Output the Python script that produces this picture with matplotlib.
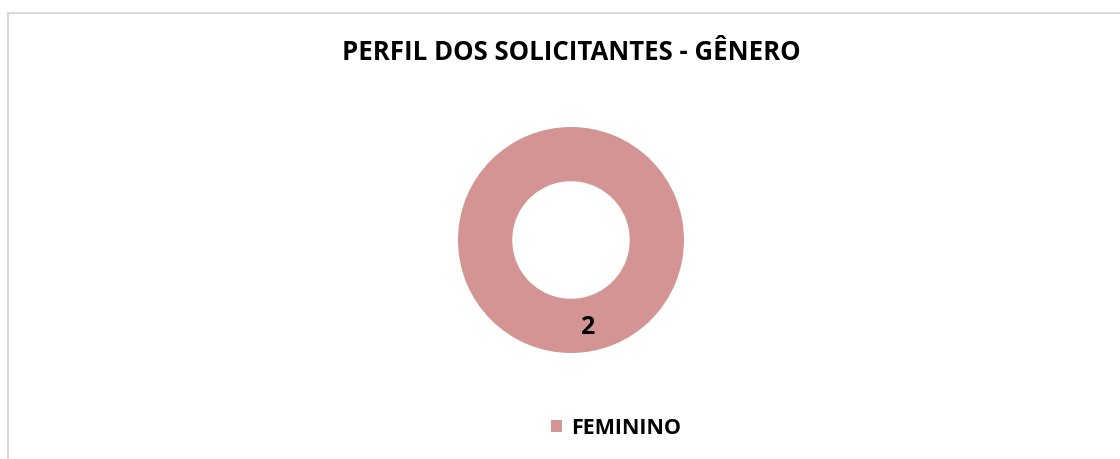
import numpy as np
import matplotlib.pyplot as plt
from matplotlib.lines import Line2D

# dados
categorias = ['FEMININO']
valores = [2]
cores = ['#D39493']
titulo = 'PERFIL DOS SOLICITANTES - GÊNERO'

W, H = 1120, 459
fig = plt.figure(figsize=(W / 100, H / 100), dpi=100)
plt.rcParams['font.family'] = ['Open Sans', 'DejaVu Sans']

# borda do gráfico (só topo e esquerda visíveis)
fig.add_artist(Line2D([7.5 / W, 1], [1 - 12.5 / H, 1 - 12.5 / H], color='#d9d9d9', lw=1.5))
fig.add_artist(Line2D([7.5 / W, 7.5 / W], [0, 1 - 12.5 / H], color='#d9d9d9', lw=1.5))

# rosca
cx, cy, r = 571, 240, 113
ax = fig.add_axes([(cx - r) / W, 1 - (cy + r) / H, 2 * r / W, 2 * r / H])
wedges, _ = ax.pie(valores, colors=cores, startangle=90, counterclock=False,
                   radius=1, wedgeprops=dict(width=0.48, edgecolor='none'))
ax.set_xlim(-1, 1)
ax.set_ylim(-1, 1)
ax.set_aspect('equal')
ax.axis('off')

# rótulos de dados
for w, v in zip(wedges, valores):
    ang = np.deg2rad((w.theta1 + w.theta2) / 2)
    rr = 0.77
    ax.text(rr * np.cos(ang) + 0.14, rr * np.sin(ang), str(v), ha='center', va='center',
            fontsize=18, fontweight='bold', color='black')

fig.text(571 / W, 1 - 52 / H, titulo, ha='center', va='center', fontsize=18.5, fontweight='bold')

fig.legend(wedges, categorias, loc='center', bbox_to_anchor=(616 / W, 1 - 428 / H),
           frameon=False, handlelength=0.5, handleheight=0.5, handletextpad=0.45,
           prop=dict(size=15.5, weight='bold'))

fig.savefig('out.png', dpi=100, facecolor='white')
